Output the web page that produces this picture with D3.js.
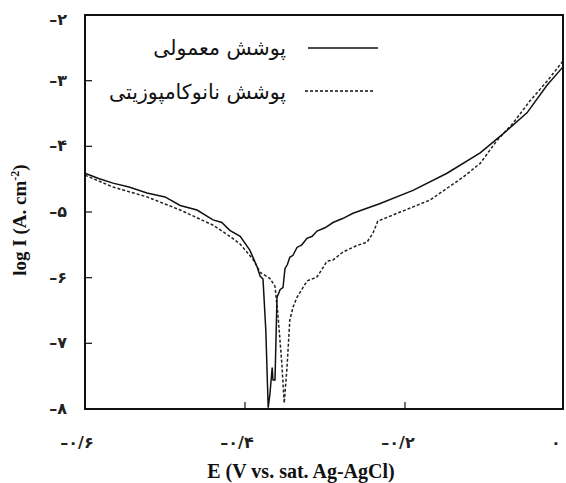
<!DOCTYPE html>
<html><head><meta charset="utf-8">
<script src="https://cdn.jsdelivr.net/npm/d3@7"></script>
<style>body{margin:0;background:#fff}svg{display:block}</style>
</head><body><svg id="c" width="566" height="483"></svg>
<script>
const seriesNames = ["پوشش معمولی", "پوشش نانوکامپوزیتی"];
const solidE = [-0.600,-0.583,-0.565,-0.545,-0.5225,-0.50,-0.481,-0.46,-0.44,-0.429,-0.419,-0.406,-0.394,-0.385,-0.381,-0.3775,-0.374,-0.371,-0.369,-0.366,-0.365,-0.3625,-0.36,-0.356,-0.3525,-0.35,-0.347,-0.344,-0.34,-0.335,-0.329,-0.3225,-0.316,-0.31,-0.30,-0.29,-0.278,-0.265,-0.231,-0.19,-0.1475,-0.106,-0.0775,-0.0475,-0.0225,-0.0025];
const solidLogI = [-4.41,-4.49,-4.56,-4.62,-4.71,-4.77,-4.90,-4.97,-5.12,-5.16,-5.28,-5.37,-5.58,-5.83,-5.98,-6.02,-6.80,-7.98,-7.79,-7.37,-7.56,-7.56,-6.30,-6.18,-6.15,-5.86,-5.80,-5.69,-5.66,-5.54,-5.50,-5.40,-5.37,-5.29,-5.24,-5.16,-5.10,-5.02,-4.87,-4.67,-4.41,-4.10,-3.81,-3.49,-3.07,-2.79];
const dashE = [-0.6,-0.565,-0.5225,-0.481,-0.44,-0.419,-0.406,-0.39,-0.381,-0.369,-0.3625,-0.359,-0.354,-0.351,-0.3475,-0.344,-0.34,-0.335,-0.3225,-0.31,-0.2975,-0.29,-0.2775,-0.26,-0.2475,-0.24,-0.234,-0.21,-0.169,-0.1275,-0.106,-0.085,-0.065,-0.044,-0.0225,-0.0025];
const dashLogI = [-4.44,-4.62,-4.77,-4.97,-5.20,-5.37,-5.49,-5.72,-5.92,-6.01,-6.13,-6.54,-7.30,-7.91,-7.37,-6.65,-6.45,-6.30,-6.05,-5.99,-5.75,-5.73,-5.61,-5.51,-5.46,-5.32,-5.14,-5.02,-4.82,-4.47,-4.26,-3.91,-3.65,-3.31,-3.01,-2.70];
const xTicks = [-0.6,-0.4,-0.2,0];
const xTickLabels = ["–۰/۶","–۰/۴","–۰/۲","۰"];
const yTicks = [-2,-3,-4,-5,-6,-7,-8];
const yTickLabels = ["–۲","–۳","–۴","–۵","–۶","–۷","–۸"];

const svg = d3.select("#c");
const x = d3.scaleLinear().domain([-0.6,0]).range([85,565]);
const y = d3.scaleLinear().domain([-8,-2]).range([409,15]);
const L = 85, R = 563, T = 15, B = 409;

// inward ticks
svg.append("g").selectAll("line").data(yTicks.slice(1,-1)).join("line")
  .attr("x1",L).attr("x2",L+7).attr("y1",d=>y(d)).attr("y2",d=>y(d))
  .attr("stroke","#222").attr("stroke-width",1.3);
svg.append("g").selectAll("line").data([-0.4,-0.2]).join("line")
  .attr("x1",d=>x(d)).attr("x2",d=>x(d)).attr("y1",B).attr("y2",B-7)
  .attr("stroke","#222").attr("stroke-width",1.3);

// tick labels
svg.append("g").selectAll("text").data(yTicks).join("text")
  .attr("x",67).attr("y",(d,i)=>y(d)+ (i===0?10:5))
  .attr("text-anchor","end").attr("font-family","DejaVu Sans").attr("font-size",16)
  .attr("font-weight","bold").attr("fill","#222").text((d,i)=>yTickLabels[i]);
const xlabOff = [-8,-8,-7,-9];
svg.append("g").selectAll("text").data(xTicks).join("text")
  .attr("x",(d,i)=>x(d)+xlabOff[i]).attr("y",448)
  .attr("text-anchor","middle").attr("font-family","DejaVu Sans").attr("font-size",16)
  .attr("font-weight","bold").attr("fill","#222").text((d,i)=>xTickLabels[i]);

// lines
const line = d3.line().x(d=>x(d[0])).y(d=>y(d[1]));
const sData = solidE.map((e,i)=>[e,solidLogI[i]]);
const dData = dashE.map((e,i)=>[e,dashLogI[i]]);
svg.append("path").datum(dData).attr("d",line).attr("fill","none")
  .attr("stroke","#222").attr("stroke-width",1.5).attr("stroke-dasharray","3,2");
svg.append("path").datum(sData).attr("d",line).attr("fill","none")
  .attr("stroke","#111").attr("stroke-width",1.5);

// frame
svg.append("rect").attr("x",L).attr("y",T).attr("width",R-L).attr("height",B-T)
  .attr("fill","none").attr("stroke","#111").attr("stroke-width",2);

// legend
const lg = svg.append("g");
lg.append("line").attr("x1",308).attr("x2",378).attr("y1",48).attr("y2",48)
  .attr("stroke","#111").attr("stroke-width",1.3);
lg.append("line").attr("x1",305).attr("x2",375).attr("y1",91).attr("y2",91)
  .attr("stroke","#111").attr("stroke-width",1.3).attr("stroke-dasharray","3,2");
lg.append("text").attr("x",286).attr("y",55).attr("text-anchor","end")
  .attr("font-family","DejaVu Sans").attr("font-size",20.5).attr("fill","#111")
  .text(seriesNames[0]);
lg.append("text").attr("x",286).attr("y",99).attr("text-anchor","end")
  .attr("font-family","DejaVu Sans").attr("font-size",20.5).attr("fill","#111")
  .text(seriesNames[1]);

// axis titles
svg.append("text").attr("x",301).attr("y",478).attr("text-anchor","middle")
  .attr("font-family","Liberation Serif").attr("font-weight","bold").attr("font-size",20)
  .attr("fill","#111").text("E (V vs. sat. Ag-AgCl)");
const yt = svg.append("text").attr("transform","translate(26,220) rotate(-90)")
  .attr("text-anchor","middle").attr("font-family","Liberation Serif").attr("font-weight","bold")
  .attr("font-size",19).attr("fill","#111");
yt.append("tspan").text("log I (A. cm");
yt.append("tspan").attr("dy",-7).attr("font-size",12).text("-2");
yt.append("tspan").attr("dy",7).text(")");
</script></body></html>
